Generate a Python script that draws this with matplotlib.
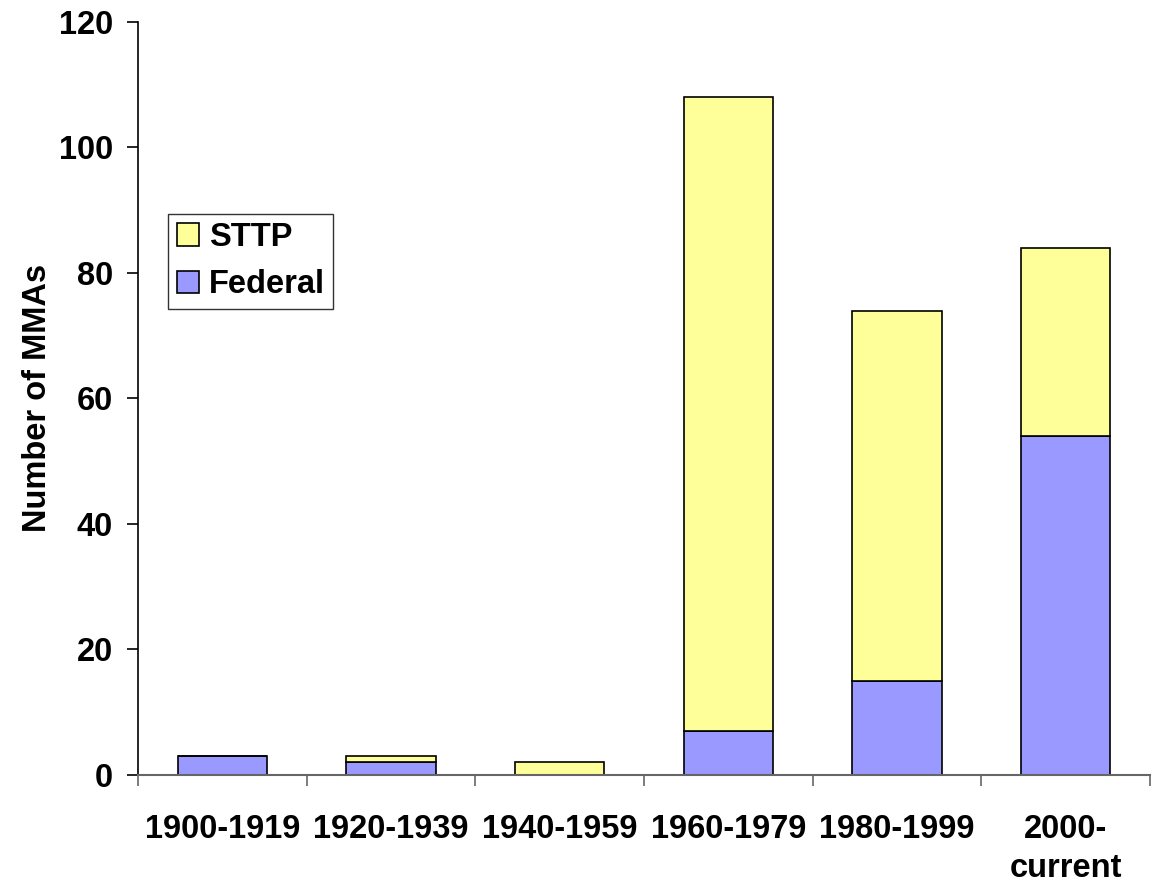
import numpy as np
import matplotlib.pyplot as plt

plt.rcParams['font.family'] = ['Liberation Sans', 'DejaVu Sans']
plt.rcParams['font.weight'] = 'bold'

periods = ['1900-1919', '1920-1939', '1940-1959', '1960-1979', '1980-1999', '2000-\ncurrent']
federal = [3, 2, 0, 7, 15, 54]
sttp = [0, 1, 2, 101, 59, 30]

fig = plt.figure(figsize=(11.54, 8.84), dpi=100)
ax = fig.add_axes([0.1196, 0.1233, 0.877, 0.852])

x = np.arange(len(periods))
w = 0.53
ax.bar(x, federal, width=w, color='#9999FF', edgecolor='black', lw=1.2, label='Federal')
ax.bar(x, sttp, width=w, bottom=federal, color='#FFFF99', edgecolor='black', lw=1.2, label='STTP')

ax.set_xlim(-0.5, len(periods) - 0.5)
ax.set_ylim(0, 120)
ax.set_yticks(range(0, 121, 20))
ax.set_xticks(x)
ax.set_xticklabels(periods, fontsize=23.5, fontweight='bold', linespacing=1.35)
ax.set_xticks(np.arange(-0.5, len(periods)), minor=True)
ax.tick_params(axis='x', which='major', length=0, pad=28)
ax.tick_params(axis='x', which='minor', length=8, width=1.2, color='#666666')
ax.tick_params(axis='y', labelsize=23.5, length=8, width=1.2, pad=10)
for t in ax.get_yticklabels():
    t.set_fontweight('bold')

ax.spines['top'].set_visible(False)
ax.spines['right'].set_visible(False)
ax.spines['bottom'].set_color('#666666')
ax.spines['bottom'].set_linewidth(1.5)
ax.spines['left'].set_linewidth(1.2)

ax.set_ylabel('Number of MMAs', fontsize=23.5, fontweight='bold', labelpad=4)

h, l = ax.get_legend_handles_labels()
leg = ax.legend(h[::-1], l[::-1], loc='upper left', bbox_to_anchor=(0.03, 0.745),
                fontsize=23.5, frameon=True, fancybox=False, edgecolor='black',
                handlelength=0.7, handleheight=0.7, handletextpad=0.3,
                borderpad=0.25, labelspacing=0.5, borderaxespad=0)
leg.get_frame().set_linewidth(1.0)
for t in leg.get_texts():
    t.set_fontweight('bold')

fig.savefig('out.png', dpi=100)
